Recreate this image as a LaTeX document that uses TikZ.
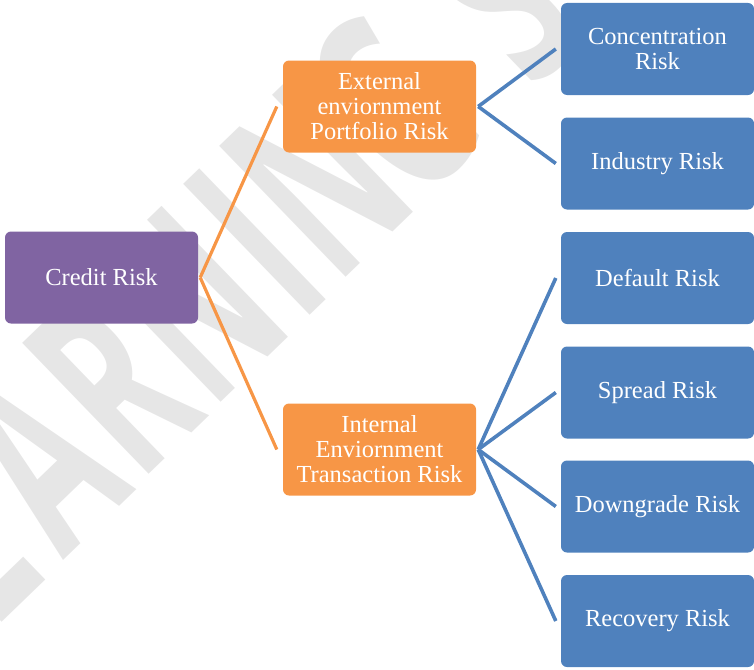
\documentclass[tikz,border=0pt]{standalone}
\usepackage{fontspec}
\usepackage{graphicx}
\setmainfont{Liberation Serif}
\newfontfamily\wmfont{Open Sans}

\definecolor{rootpurple}{HTML}{8064A2}
\definecolor{midorange}{HTML}{F79646}
\definecolor{leafblue}{HTML}{4F81BD}
\definecolor{wmgray}{HTML}{E6E6E6}

\begin{document}
\begin{tikzpicture}[x=1pt,y=-1pt,
  box/.style={rectangle, rounded corners=6pt, minimum width=193pt,
    minimum height=92pt, inner sep=0pt, text=white, align=center,
    font=\fontsize{24.5}{25}\selectfont},
  rootbox/.style={box, fill=rootpurple},
  midbox/.style={box, fill=midorange},
  leafbox/.style={box, fill=leafblue},
  wmletter/.style={text=wmgray, rotate=44, anchor=base, inner sep=0pt,
    font=\wmfont\bfseries\fontsize{255}{255}\selectfont},
  orangelink/.style={draw=midorange, line width=3.2pt},
  bluelink/.style={draw=leafblue, line width=3.6pt}
]
% canvas
\useasboundingbox (0,0) rectangle (754,669);

% background watermark lettering
\foreach \c/\ch in {-55/L, 22/E, 100/A, 175/R, 255/N, 318/I, 380/N, 455/G, 562/S}
  \node[wmletter] at (\c, 625-\c) {\scalebox{0.58}[1]{\ch}};

% boxes
\node[rootbox] (credit) at (101.5,277.5) {Credit Risk};
\node[midbox] (ext) at (379.5,106.5) {External\\enviornment\\Portfolio Risk};
\node[midbox] (int) at (379.5,449.5) {Internal\\Enviornment\\Transaction Risk};

\node[leafbox] (conc) at (657.5,49)    {Concentration\\Risk};
\node[leafbox] (ind)  at (657.5,163.5) {Industry Risk};
\node[leafbox] (def)  at (657.5,278)   {Default Risk};
\node[leafbox] (spr)  at (657.5,392.5) {Spread Risk};
\node[leafbox] (down) at (657.5,506.5) {Downgrade Risk};
\node[leafbox] (rec)  at (657.5,621)   {Recovery Risk};

% connectors
\draw[orangelink] ([xshift=2pt]credit.east) -- ([xshift=-6pt]ext.west);
\draw[orangelink] ([xshift=2pt]credit.east) -- ([xshift=-6pt]int.west);

\foreach \leaf in {conc, ind}
  \draw[bluelink] ([xshift=2pt]ext.east) -- ([xshift=-5pt]\leaf.west);
\foreach \leaf in {def, spr, down, rec}
  \draw[bluelink] ([xshift=2pt]int.east) -- ([xshift=-5pt]\leaf.west);
\end{tikzpicture}
\end{document}
